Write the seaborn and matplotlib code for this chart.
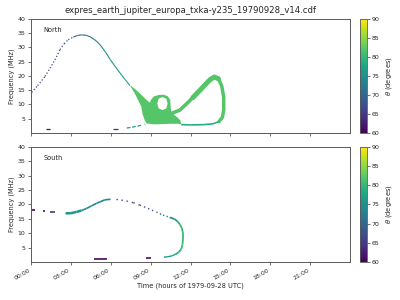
import numpy as np
import matplotlib
matplotlib.use("Agg")
import matplotlib.pyplot as plt
import seaborn as sns
from matplotlib.collections import LineCollection
from matplotlib.path import Path
from matplotlib.patches import PathPatch
from matplotlib.cm import ScalarMappable

# ---------------- data (hours, MHz, theta degrees) ----------------
title = "expres_earth_jupiter_europa_txka-y235_19790928_v14.cdf"
xtick_hours = [0, 3, 6, 9, 12, 15, 18, 21]
xtick_labels = ["00:00", "03:00", "06:00", "09:00", "12:00", "15:00", "18:00", "21:00"]
ytick_vals = [5, 10, 15, 20, 25, 30, 35, 40]
cbar_ticks = [60, 65, 70, 75, 80, 85, 90]

# North: sparse rising arc
n_rise_t = [0.05, 0.5, 1.05, 1.43, 1.8, 2.18, 2.5, 2.8, 3.18]
n_rise_f = [14.2, 16.6, 19.8, 22.7, 25.6, 29.2, 31.3, 32.7, 33.6]
n_rise_th = [65, 65.5, 66, 66.5, 67, 67.5, 68, 68.5, 69]
# North: descending arc
n_arc_t = [3.18, 3.5, 3.8, 4.2, 4.5, 4.9, 5.2, 5.6, 5.95, 6.3, 6.7, 7.1, 7.45]
n_arc_f = [33.6, 34.2, 34.4, 34.2, 33.6, 32.3, 30.9, 28.4, 25.8, 23.5, 21.0, 18.6, 16.6]
n_arc_th = [69, 69.5, 70, 71, 72, 73, 74, 75, 75.5, 76, 76.5, 77, 77.5]
# North: broadband blob outline with hole
n_blob_t = [7.45, 7.8, 8.05, 8.3, 8.4, 8.55, 8.7, 9.3, 10.0, 10.6, 11.0, 11.3,
            11.25, 11.0, 10.7, 10.55, 10.5, 10.48, 10.3, 10.0, 9.6, 9.25, 9.05, 8.93,
            8.6, 8.18, 7.8, 7.6]
n_blob_f = [16.6, 13.9, 11.6, 9.2, 6.5, 4.5, 3.3, 3.0, 3.1, 3.2, 3.2, 3.0,
            4.3, 5.5, 6.6, 7.5, 9.5, 11.5, 12.8, 13.4, 13.3, 12.8, 11.8, 10.6,
            12.0, 13.9, 15.5, 16.2]
n_hole_t = [9.89, 10.18, 10.28, 10.18, 9.89, 9.6, 9.5, 9.6]
n_hole_f = [12.6, 12.0, 10.3, 8.6, 8.0, 8.6, 10.3, 12.0]
n_blob_theta = 82
# North: right loop
n_arm_t = [10.6, 11.2, 11.68, 12.18, 12.68, 13.18, 13.5, 13.8, 14.1]
n_arm_f = [6.9, 8.0, 10.1, 12.4, 14.8, 17.3, 18.8, 19.6, 19.0]
n_right_t = [14.1, 14.35, 14.5, 14.5, 14.4, 14.15]
n_right_f = [19.0, 16.5, 12.5, 8.0, 5.5, 4.0]
n_bot_t = [14.15, 13.7, 13.0, 12.0, 11.3]
n_bot_f = [4.0, 3.2, 2.9, 2.8, 2.9]
n_bot_th = [80, 79, 78.5, 78.5, 79]
# North: faint low-frequency pieces
n_low_t = [7.2, 7.6, 8.0, 8.6]
n_low_f = [1.7, 2.0, 2.4, 3.0]
n_low_th = [76, 76, 77, 78]
n_dash_t0 = [1.1, 6.2]
n_dash_t1 = [1.4, 6.55]
n_dash_f = [1.2, 1.5]
n_dash_th = [61, 64]

# South
s_dash_t0 = [0.0, 0.88, 1.43, 4.75, 8.68]
s_dash_t1 = [0.3, 1.05, 1.8, 5.75, 9.0]
s_dash_f = [17.9, 17.6, 17.2, 1.1, 1.3]
s_dash_th = [60.5, 62, 65, 60.5, 61]
s_rise_t = [2.6, 3.0, 3.43, 3.8, 4.18, 4.55, 4.93, 5.25, 5.55, 5.98]
s_rise_f = [16.9, 16.95, 17.4, 17.9, 18.6, 19.5, 20.4, 21.0, 21.6, 21.8]
s_rise_th = [76, 76, 75.5, 75, 75, 74.5, 74, 74, 73.5, 73]
s_desc_t = [6.43, 6.8, 7.18, 7.7, 8.18, 8.5, 8.8, 9.1, 9.43, 9.7, 9.93, 10.2, 10.43]
s_desc_f = [21.75, 21.5, 21.2, 20.6, 19.8, 19.2, 18.6, 18.0, 17.4, 16.8, 16.3, 15.9, 15.5]
s_desc_th = [66, 66, 66, 66.5, 67, 67, 67.5, 68, 69, 71, 73, 74, 75]
s_bend_t = [10.43, 10.8, 11.05, 11.2, 11.35, 11.43, 11.43, 11.4, 11.3, 11.1, 10.85]
s_bend_f = [15.5, 14.9, 14.0, 13.0, 11.8, 10.0, 8.0, 6.0, 4.4, 3.3, 2.6]
s_bend_th = [75, 76, 78, 80, 80.5, 80.5, 80.5, 80.5, 80, 79, 78]
s_tail_t = [10.85, 10.6, 10.3, 10.0]
s_tail_f = [2.6, 2.1, 1.8, 1.65]
s_tail_th = [78, 77, 76, 76]

# ---------------- plotting ----------------
sns.set_theme(style="ticks", rc={"axes.edgecolor": "0.35", "axes.linewidth": 0.7,
                                  "xtick.color": "0.35", "ytick.color": "0.35",
                                  "xtick.labelcolor": "0.15", "ytick.labelcolor": "0.15"})
plt.rcParams["font.family"] = ["DejaVu Sans"]

cmap = plt.get_cmap("viridis")
norm = plt.Normalize(60, 90)


def grad_line(ax, t, f, th, lw, ls="-"):
    pts = np.column_stack([t, f]).reshape(-1, 1, 2)
    segs = np.concatenate([pts[:-1], pts[1:]], axis=1)
    th = np.asarray(th, float)
    lc = LineCollection(segs, cmap=cmap, norm=norm, linewidths=lw,
                        linestyles=ls, capstyle="butt", joinstyle="round")
    lc.set_array((th[:-1] + th[1:]) / 2)
    ax.add_collection(lc)


def dashes(ax, t0, t1, f, th, lw):
    for a, b, y, c in zip(t0, t1, f, th):
        ax.plot([a, b], [y, y], color=cmap(norm(c)), lw=lw, solid_capstyle="butt")


fig = plt.figure(figsize=(4, 3), dpi=100)
ax1 = fig.add_axes([0.0775, 0.557, 0.7975, 0.38])
ax2 = fig.add_axes([0.0775, 0.127, 0.7975, 0.383])
cax1 = fig.add_axes([0.9, 0.557, 0.0175, 0.38])
cax2 = fig.add_axes([0.9, 0.127, 0.0175, 0.383])

# North
grad_line(ax1, n_rise_t, n_rise_f, n_rise_th, 0.9, ":")
grad_line(ax1, n_arc_t, n_arc_f, n_arc_th, 0.8)
outer = list(zip(n_blob_t, n_blob_f))
hole = list(zip(n_hole_t, n_hole_f))
verts = outer + [outer[0]] + hole + [hole[0]]
codes = ([Path.MOVETO] + [Path.LINETO] * (len(outer) - 1) + [Path.CLOSEPOLY] +
         [Path.MOVETO] + [Path.LINETO] * (len(hole) - 1) + [Path.CLOSEPOLY])
blob_c = cmap(norm(n_blob_theta))
ax1.add_patch(PathPatch(Path(verts, codes), facecolor=blob_c, edgecolor="none"))
ax1.plot(n_arm_t[:4], n_arm_f[:4], color=blob_c, lw=2.6, solid_capstyle="round")
ax1.plot(n_arm_t[3:], n_arm_f[3:], color=blob_c, lw=3.6, solid_capstyle="round")
ax1.plot(n_right_t, n_right_f, color=blob_c, lw=2.5, solid_capstyle="round")
grad_line(ax1, n_bot_t, n_bot_f, n_bot_th, 1.2)
grad_line(ax1, n_low_t, n_low_f, n_low_th, 0.9, (0, (3, 3)))
dashes(ax1, n_dash_t0, n_dash_t1, n_dash_f, n_dash_th, 0.9)

# South
dashes(ax2, s_dash_t0, s_dash_t1, s_dash_f, s_dash_th, 1.2)
grad_line(ax2, s_rise_t[:4], s_rise_f[:4], s_rise_th[:4], 1.8)
grad_line(ax2, s_rise_t[3:], s_rise_f[3:], s_rise_th[3:], 1.2)
grad_line(ax2, s_desc_t, s_desc_f, s_desc_th, 1.0, (0, (1, 3)))
grad_line(ax2, s_bend_t, s_bend_f, s_bend_th, 1.3)
grad_line(ax2, s_tail_t, s_tail_f, s_tail_th, 1.0, (0, (3, 3)))

for ax, name in [(ax1, "North"), (ax2, "South")]:
    ax.set_xlim(0, 24)
    ax.set_ylim(0, 40)
    ax.set_xticks(xtick_hours)
    ax.set_yticks(ytick_vals)
    ax.tick_params(labelsize=4.5, length=2.5, width=0.6, pad=1.5)
    ax.set_ylabel("Frequency (MHz)", fontsize=4.8, labelpad=2)
    ax.text(0.04, 0.9, name, transform=ax.transAxes, fontsize=4.8,
            ha="left", va="center", color="0.15")
    for s in ax.spines.values():
        s.set_visible(True)

ax1.set_xticklabels([])
ax2.set_xticklabels(xtick_labels, rotation=30, ha="right")
ax2.set_xlabel("Time (hours of 1979-09-28 UTC)", fontsize=4.8, labelpad=1)
ax1.set_title(title, fontsize=6.1, pad=4)

for cax in (cax1, cax2):
    sm = ScalarMappable(norm=norm, cmap=cmap)
    cb = fig.colorbar(sm, cax=cax, ticks=cbar_ticks)
    cb.outline.set_linewidth(0.6)
    cb.outline.set_edgecolor("0.35")
    cax.tick_params(labelsize=4.5, length=2, width=0.6, pad=1.5)
    cb.set_label(r"$\theta$ (degrees)", fontsize=4.8, labelpad=3)

fig.savefig("out.png", dpi=100)
